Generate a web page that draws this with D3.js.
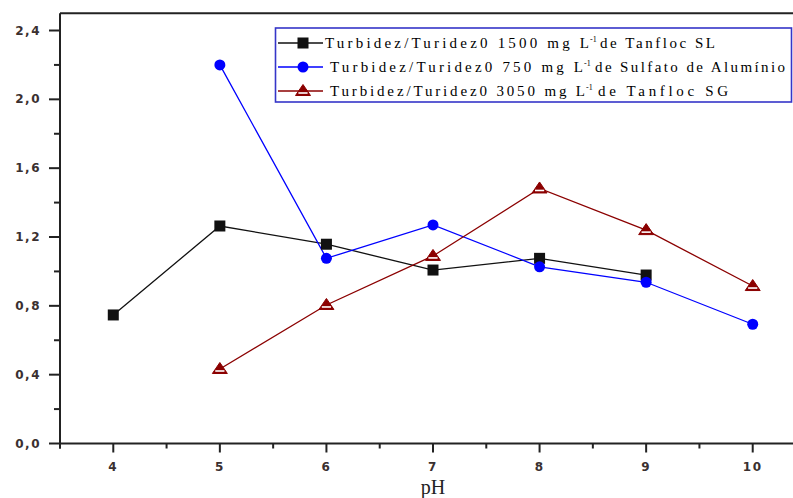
<!DOCTYPE html>
<html>
<head>
<meta charset="utf-8">
<script src="https://cdn.jsdelivr.net/npm/d3@7"></script>
<style>
  html, body { margin: 0; padding: 0; background: #fff; }
  svg { display: block; }
</style>
</head>
<body>
<div id="chart"></div>
<script>
// pH on the x axis, turbidity ratio on the y axis
const phValues = [4, 5, 6, 7, 8, 9, 10];
const tanflocSL = [[4, 0.747], [5, 1.264], [6, 1.158], [7, 1.008], [8, 1.076], [9, 0.979]];
const sulfatoAl = [[5, 2.20], [6, 1.076], [7, 1.27], [8, 1.027], [9, 0.937], [10, 0.693]];
const tanflocSG = [[5, 0.433], [6, 0.805], [7, 1.09], [8, 1.482], [9, 1.24], [10, 0.915]];
const yTicks = [0, 0.4, 0.8, 1.2, 1.6, 2.0, 2.4];
const legendLabels = [
  ["Turbidez/Turidez0  1500 mg L", "-1", "de Tanfloc SL"],
  ["Turbidez/Turidez0  750 mg L", "-1", "de Sulfato de Alumínio"],
  ["Turbidez/Turidez0  3050 mg L", "-1", "de Tanfloc SG"]
];

const W = 793, H = 498;
const svg = d3.select("#chart").append("svg")
  .attr("width", W).attr("height", H);

const x = d3.scaleLinear().domain([3.5, 10.5]).range([60, 806]);
const y = d3.scaleLinear().domain([0, 2.5]).range([443.5, 13.3]);

const axisColor = "#222";

// frame top
svg.append("line")
  .attr("x1", 60).attr("x2", W).attr("y1", y(2.5)).attr("y2", y(2.5))
  .attr("stroke", axisColor).attr("stroke-width", 2);

// x axis
const xAxis = svg.append("g").attr("transform", `translate(0,${y(0)})`);
xAxis.append("line").attr("x1", 60).attr("x2", W)
  .attr("stroke", axisColor).attr("stroke-width", 2);
d3.range(3.5, 10.51, 0.5).forEach(v => {
  const major = Number.isInteger(v);
  xAxis.append("line")
    .attr("x1", x(v)).attr("x2", x(v)).attr("y1", 0).attr("y2", major ? 9 : 5)
    .attr("stroke", axisColor).attr("stroke-width", 2);
});
xAxis.selectAll("text.tick").data(phValues).join("text")
  .attr("x", d => x(d)).attr("y", 27)
  .attr("text-anchor", "middle")
  .attr("font-family", "DejaVu Sans, sans-serif")
  .attr("font-size", 12).attr("letter-spacing", 1.5)
  .attr("font-weight", 600)
  .attr("fill", "#3a3030")
  .text(d => d);

// y axis
const yAxis = svg.append("g").attr("transform", "translate(60,0)");
yAxis.append("line").attr("y1", y(2.5)).attr("y2", y(0) + 5)
  .attr("stroke", axisColor).attr("stroke-width", 2);
d3.range(0, 2.41, 0.2).forEach(v => {
  const major = Math.round(v * 10) % 4 === 0;
  yAxis.append("line")
    .attr("x1", major ? -11 : -6).attr("x2", 0).attr("y1", y(v)).attr("y2", y(v))
    .attr("stroke", axisColor).attr("stroke-width", 2);
});
yAxis.selectAll("text.tick").data(yTicks).join("text")
  .attr("x", -19).attr("y", d => y(d) + 4)
  .attr("text-anchor", "end")
  .attr("font-family", "DejaVu Sans, sans-serif")
  .attr("font-size", 12).attr("letter-spacing", 1.5)
  .attr("font-weight", 600)
  .attr("fill", "#3a3030")
  .text(d => d3.format(".1f")(d).replace(".", ","));

svg.append("text")
  .attr("x", 433).attr("y", 494)
  .attr("text-anchor", "middle")
  .attr("font-family", "Liberation Serif, serif")
  .attr("font-size", 20).attr("fill", "#222")
  .text("pH");

// markers
function drawSquare(g, cx, cy, color) {
  g.append("rect").attr("x", cx - 5.5).attr("y", cy - 5.5)
    .attr("width", 11).attr("height", 11).attr("fill", color);
}
function drawCircle(g, cx, cy, color) {
  g.append("circle").attr("cx", cx).attr("cy", cy).attr("r", 5.5).attr("fill", color);
}
function drawTriangle(g, cx, cy, color) {
  const t = g.append("g").attr("transform", `translate(${cx},${cy})`);
  t.append("path").attr("d", "M0,-6.5L7.5,4.5L-7.5,4.5Z")
    .attr("fill", color).attr("stroke", color).attr("stroke-width", 1);
  t.append("line").attr("x1", -4.6).attr("x2", 4.6).attr("y1", 2).attr("y2", 2)
    .attr("stroke", "#fff").attr("stroke-width", 1.6);
}

const series = [
  { data: tanflocSL, color: "#111", marker: drawSquare },
  { data: sulfatoAl, color: "#0000ff", marker: drawCircle },
  { data: tanflocSG, color: "#8b0000", marker: drawTriangle }
];

const line = d3.line().x(d => x(d[0])).y(d => y(d[1]));
const plot = svg.append("g");
series.forEach(s => {
  plot.append("path").datum(s.data)
    .attr("d", line).attr("fill", "none")
    .attr("stroke", s.color).attr("stroke-width", 1.3);
});
series.forEach(s => {
  s.data.forEach(d => s.marker(plot, x(d[0]), y(d[1]), s.color));
});

// legend
const legend = svg.append("g");
legend.append("rect")
  .attr("x", 275.5).attr("y", 28).attr("width", 516).attr("height", 74)
  .attr("fill", "#fff").attr("stroke", "#3535c8").attr("stroke-width", 1.6);

const rowY = [43, 67, 91];
const textStart = [325, 330, 330];
const lEnd = [589, 583, 585];
const deStart = [600, 595, 598];
const rowEnd = [715, 785, 728];

legendLabels.forEach((lab, i) => {
  const s = series[i];
  const cy = rowY[i];
  legend.append("line").attr("x1", 278).attr("x2", 323).attr("y1", cy).attr("y2", cy)
    .attr("stroke", s.color).attr("stroke-width", 1.3);
  s.marker(legend, 303, cy, s.color);
  const base = cy + 5;
  legend.append("text")
    .attr("x", textStart[i]).attr("y", base)
    .attr("font-family", "Liberation Serif, serif").attr("font-size", 15)
    .attr("textLength", lEnd[i] - textStart[i]).attr("lengthAdjust", "spacing")
    .attr("fill", "#000").text(lab[0]);
  legend.append("text")
    .attr("x", lEnd[i] + 1).attr("y", base - 6)
    .attr("font-family", "Liberation Serif, serif").attr("font-size", 8)
    .attr("fill", "#000").text(lab[1]);
  legend.append("text")
    .attr("x", deStart[i]).attr("y", base)
    .attr("font-family", "Liberation Serif, serif").attr("font-size", 15)
    .attr("textLength", rowEnd[i] - deStart[i]).attr("lengthAdjust", "spacing")
    .attr("fill", "#000").text(lab[2]);
});
</script>
</body>
</html>
